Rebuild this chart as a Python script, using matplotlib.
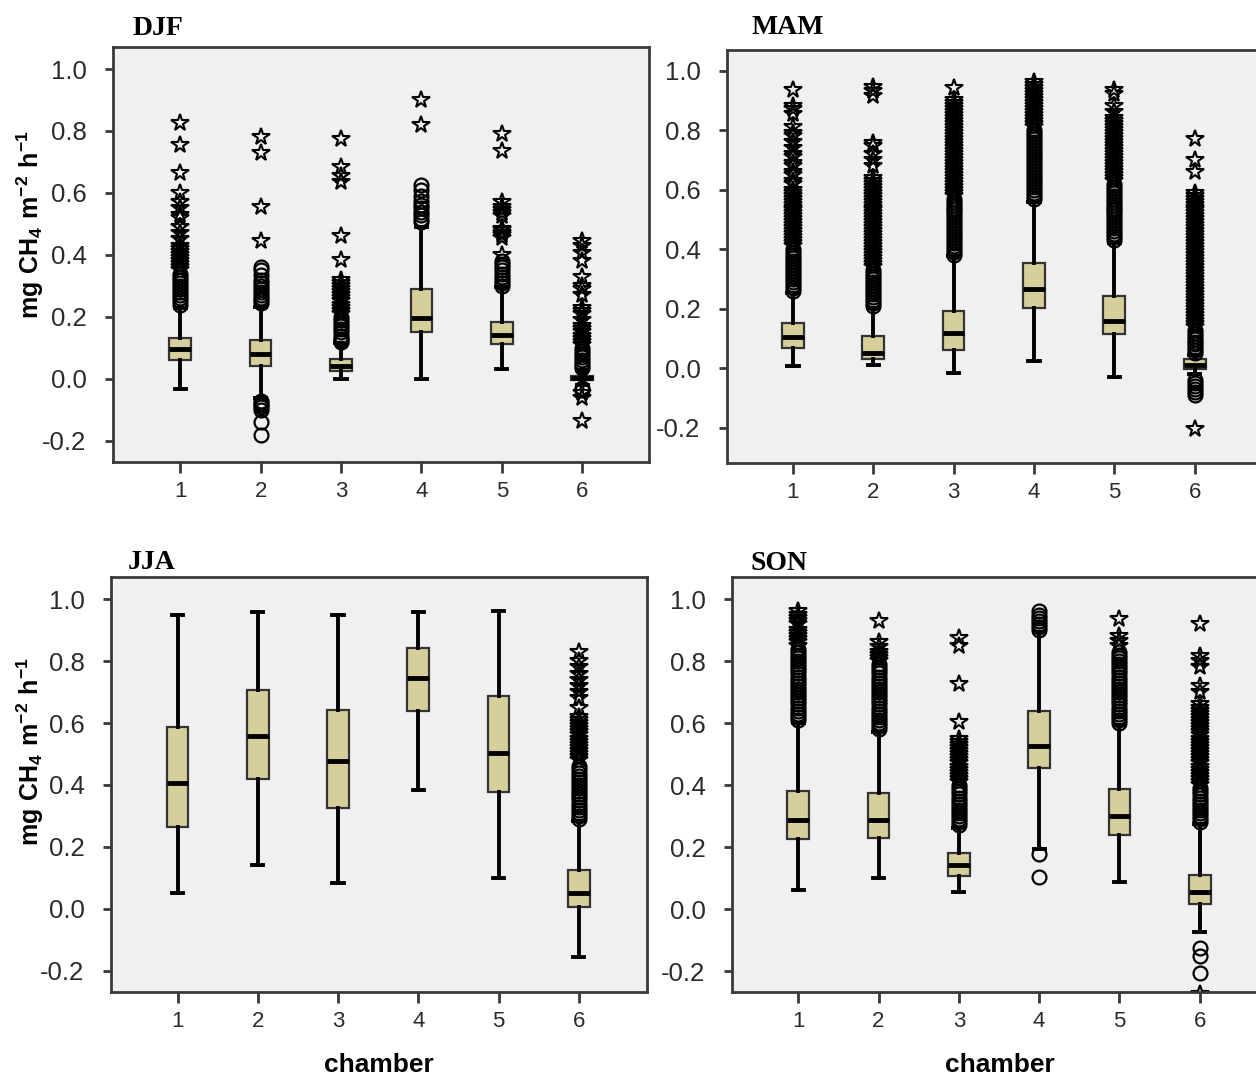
import numpy as np
import matplotlib
matplotlib.use("Agg")
import matplotlib.pyplot as plt

plt.rcParams['font.family'] = ['Liberation Sans', 'DejaVu Sans']
plt.rcParams['mathtext.fontset'] = 'custom'
plt.rcParams['mathtext.bf'] = 'Liberation Sans:bold'

chambers = [1, 2, 3, 4, 5, 6]
seasons = ['DJF', 'MAM', 'JJA', 'SON']

# box statistics per chamber: lower whisker, q1, median, q3, upper whisker
djf_lo = [-0.033, -0.060, 0.000, 0.000, 0.031, -0.020]
djf_q1 = [0.061, 0.042, 0.024, 0.151, 0.113, -0.004]
djf_med = [0.098, 0.081, 0.043, 0.198, 0.142, 0.002]
djf_q3 = [0.133, 0.126, 0.063, 0.289, 0.185, 0.010]
djf_hi = [0.228, 0.232, 0.115, 0.491, 0.296, 0.030]

mam_lo = [0.007, 0.012, -0.016, 0.023, -0.030, -0.020]
mam_q1 = [0.068, 0.031, 0.063, 0.202, 0.116, -0.002]
mam_med = [0.104, 0.051, 0.119, 0.267, 0.158, 0.010]
mam_q3 = [0.152, 0.107, 0.191, 0.353, 0.244, 0.031]
mam_hi = [0.253, 0.202, 0.376, 0.560, 0.420, 0.045]

jja_lo = [0.051, 0.141, 0.082, 0.384, 0.099, -0.157]
jja_q1 = [0.263, 0.418, 0.327, 0.638, 0.377, 0.006]
jja_med = [0.405, 0.558, 0.479, 0.747, 0.503, 0.051]
jja_q3 = [0.586, 0.708, 0.643, 0.841, 0.688, 0.124]
jja_hi = [0.950, 0.959, 0.950, 0.959, 0.961, 0.285]

son_lo = [0.062, 0.101, 0.054, 0.193, 0.088, -0.073]
son_q1 = [0.226, 0.231, 0.107, 0.454, 0.238, 0.017]
son_med = [0.287, 0.287, 0.141, 0.527, 0.302, 0.054]
son_q3 = [0.381, 0.373, 0.181, 0.638, 0.386, 0.110]
son_hi = [0.600, 0.572, 0.263, 0.893, 0.595, 0.274]

# outliers (circles) and extremes (stars), one list per chamber
djf_circles = [
    [0.24, 0.25, 0.26, 0.27, 0.28, 0.29, 0.30, 0.31, 0.32, 0.33, 0.34],
    [0.245, 0.255, 0.26, 0.27, 0.28, 0.29, 0.30, 0.31, 0.32, 0.335, 0.35, 0.36,
     -0.07, -0.078, -0.085, -0.092, -0.10, -0.14, -0.18],
    [0.12, 0.125, 0.13, 0.14, 0.15, 0.16, 0.17, 0.18, 0.19, 0.20],
    [0.505, 0.515, 0.53, 0.54, 0.55, 0.56, 0.575, 0.59, 0.61, 0.625],
    [0.30, 0.31, 0.32, 0.33, 0.34, 0.35, 0.36, 0.37, 0.38],
    [-0.035, -0.028, 0.035, 0.042, 0.05, 0.06, 0.07, 0.08, 0.09, 0.10],
]
djf_stars = [
    [0.35, 0.36, 0.37, 0.38, 0.39, 0.40, 0.41, 0.42, 0.43, 0.45, 0.47, 0.49,
     0.52, 0.53, 0.55, 0.57, 0.60, 0.665, 0.755, 0.825],
    [0.445, 0.555, 0.73, 0.78],
    [0.21, 0.22, 0.23, 0.24, 0.25, 0.26, 0.27, 0.28, 0.29, 0.30, 0.31, 0.32,
     0.385, 0.46, 0.635, 0.655, 0.685, 0.775],
    [0.82, 0.90],
    [0.40, 0.455, 0.465, 0.47, 0.48, 0.485, 0.525, 0.535, 0.545, 0.555, 0.57,
     0.735, 0.79],
    [-0.045, -0.06, -0.135, 0.11, 0.12, 0.13, 0.14, 0.15, 0.16, 0.17, 0.19,
     0.21, 0.22, 0.23, 0.27, 0.29, 0.30, 0.33, 0.38, 0.405, 0.43, 0.445],
]

mam_circles = [
    [0.26, 0.27, 0.28, 0.29, 0.30, 0.31, 0.32, 0.33, 0.34, 0.35, 0.36, 0.37,
     0.38, 0.39, 0.40],
    [0.21, 0.22, 0.23, 0.24, 0.25, 0.26, 0.27, 0.28, 0.29, 0.30, 0.31, 0.32, 0.33],
    [0.38, 0.39, 0.40, 0.41, 0.42, 0.43, 0.44, 0.45, 0.46, 0.47, 0.48, 0.49,
     0.50, 0.51, 0.52, 0.53, 0.54, 0.55, 0.56, 0.57],
    [0.57, 0.58, 0.59, 0.60, 0.61, 0.62, 0.63, 0.64, 0.65, 0.66, 0.67, 0.68,
     0.69, 0.70, 0.71, 0.72, 0.73, 0.74, 0.75, 0.76, 0.77, 0.78, 0.79, 0.80],
    [0.43, 0.44, 0.45, 0.46, 0.47, 0.48, 0.49, 0.50, 0.51, 0.52, 0.53, 0.54,
     0.55, 0.56, 0.57, 0.58, 0.59, 0.60, 0.61, 0.62],
    [0.05, 0.06, 0.07, 0.08, 0.09, 0.10, 0.11, 0.12, 0.13,
     -0.04, -0.05, -0.06, -0.07, -0.08, -0.088],
]
mam_stars = [
    [0.41, 0.42, 0.43, 0.44, 0.45, 0.46, 0.47, 0.48, 0.49, 0.50, 0.51, 0.52,
     0.53, 0.54, 0.55, 0.56, 0.57, 0.58, 0.59, 0.60, 0.62, 0.63, 0.65, 0.66,
     0.68, 0.69, 0.71, 0.72, 0.74, 0.76, 0.78, 0.79, 0.81, 0.855, 0.87, 0.88, 0.935],
    [0.34, 0.35, 0.36, 0.37, 0.38, 0.39, 0.40, 0.41, 0.42, 0.43, 0.44, 0.45,
     0.46, 0.47, 0.48, 0.49, 0.50, 0.51, 0.52, 0.53, 0.54, 0.55, 0.56, 0.57,
     0.58, 0.59, 0.60, 0.61, 0.62, 0.63, 0.64, 0.68, 0.70, 0.72, 0.745, 0.755,
     0.915, 0.93, 0.945],
    [0.58, 0.59, 0.60, 0.61, 0.62, 0.63, 0.64, 0.65, 0.66, 0.67, 0.68, 0.69,
     0.70, 0.71, 0.72, 0.73, 0.74, 0.75, 0.76, 0.77, 0.78, 0.79, 0.80, 0.81,
     0.82, 0.83, 0.84, 0.85, 0.86, 0.87, 0.88, 0.89, 0.90, 0.94],
    [0.81, 0.82, 0.83, 0.84, 0.85, 0.86, 0.87, 0.88, 0.89, 0.90, 0.91, 0.92,
     0.93, 0.94, 0.95, 0.96],
    [0.63, 0.64, 0.65, 0.66, 0.67, 0.68, 0.69, 0.70, 0.71, 0.72, 0.73, 0.74,
     0.75, 0.76, 0.77, 0.78, 0.79, 0.80, 0.81, 0.82, 0.83, 0.84, 0.86, 0.88,
     0.92, 0.935],
    [0.14, 0.15, 0.16, 0.17, 0.18, 0.19, 0.20, 0.21, 0.22, 0.23, 0.24, 0.25,
     0.26, 0.27, 0.28, 0.29, 0.30, 0.31, 0.32, 0.33, 0.34, 0.35, 0.36, 0.37,
     0.38, 0.39, 0.40, 0.41, 0.42, 0.43, 0.44, 0.45, 0.46, 0.47, 0.48, 0.49,
     0.50, 0.51, 0.52, 0.53, 0.54, 0.55, 0.56, 0.57, 0.58, 0.59,
     0.66, 0.70, 0.77, -0.205],
]

jja_circles = [[], [], [], [], [],
               [0.29, 0.30, 0.31, 0.32, 0.33, 0.34, 0.35, 0.36, 0.37, 0.38, 0.39,
                0.40, 0.41, 0.42, 0.43, 0.44, 0.45, 0.46]]
jja_stars = [[], [], [], [], [],
             [0.48, 0.49, 0.50, 0.51, 0.52, 0.53, 0.54, 0.55, 0.56, 0.57, 0.58,
              0.59, 0.60, 0.61, 0.62, 0.65, 0.68, 0.70, 0.72, 0.74, 0.76, 0.78,
              0.80, 0.83]]

son_circles = [
    [0.61, 0.62, 0.63, 0.64, 0.65, 0.66, 0.67, 0.68, 0.69, 0.70, 0.71, 0.72,
     0.73, 0.74, 0.75, 0.76, 0.77, 0.78, 0.79, 0.80, 0.81, 0.82, 0.83, 0.84],
    [0.58, 0.59, 0.60, 0.61, 0.62, 0.63, 0.64, 0.65, 0.66, 0.67, 0.68, 0.69,
     0.70, 0.71, 0.72, 0.73, 0.74, 0.75, 0.76, 0.77, 0.78, 0.79],
    [0.27, 0.28, 0.29, 0.30, 0.31, 0.32, 0.33, 0.34, 0.35, 0.36, 0.37, 0.38,
     0.39, 0.40],
    [0.105, 0.178, 0.90, 0.91, 0.92, 0.93, 0.94, 0.95, 0.96],
    [0.60, 0.61, 0.62, 0.63, 0.64, 0.65, 0.66, 0.67, 0.68, 0.69, 0.70, 0.71,
     0.72, 0.73, 0.74, 0.75, 0.76, 0.77, 0.78, 0.79, 0.80, 0.81, 0.82, 0.83],
    [0.28, 0.29, 0.30, 0.31, 0.32, 0.33, 0.34, 0.35, 0.36, 0.37, 0.38, 0.39,
     -0.126, -0.152, -0.205],
]
son_stars = [
    [0.85, 0.86, 0.87, 0.88, 0.89, 0.90, 0.92, 0.93, 0.94, 0.95, 0.96],
    [0.80, 0.81, 0.82, 0.83, 0.845, 0.86, 0.93],
    [0.41, 0.42, 0.43, 0.44, 0.45, 0.46, 0.47, 0.48, 0.49, 0.50, 0.51, 0.52,
     0.53, 0.54, 0.55, 0.605, 0.725, 0.85, 0.875],
    [],
    [0.85, 0.865, 0.88, 0.935],
    [0.40, 0.41, 0.42, 0.43, 0.44, 0.45, 0.46, 0.47, 0.48, 0.49, 0.50, 0.51,
     0.52, 0.53, 0.54, 0.55, 0.56, 0.57, 0.58, 0.59, 0.60, 0.61, 0.62, 0.63,
     0.64, 0.65, 0.66, 0.70, 0.72, 0.78, 0.80, 0.815, 0.92, -0.272],
]

panels = {
    'DJF': (djf_lo, djf_q1, djf_med, djf_q3, djf_hi, djf_circles, djf_stars),
    'MAM': (mam_lo, mam_q1, mam_med, mam_q3, mam_hi, mam_circles, mam_stars),
    'JJA': (jja_lo, jja_q1, jja_med, jja_q3, jja_hi, jja_circles, jja_stars),
    'SON': (son_lo, son_q1, son_med, son_q3, son_hi, son_circles, son_stars),
}

W, H = 1256, 1078
fig = plt.figure(figsize=(W / 100, H / 100), dpi=100)

def px_rect(left, top, right, bottom):
    return [left / W, 1 - bottom / H, (right - left) / W, (bottom - top) / H]

# axes rectangles in pixels, plus x/y limits and title anchor for each season
layout = {
    'DJF': (px_rect(113, 47, 649, 462), (0.165, 6.83), (-0.268, 1.071), (133, 35)),
    'MAM': (px_rect(727, 50, 1263, 463), (0.18, 6.85), (-0.318, 1.069), (752, 34)),
    'JJA': (px_rect(111, 577, 647, 992), (0.17, 6.85), (-0.269, 1.072), (128, 569)),
    'SON': (px_rect(732, 577, 1268, 992), (0.175, 6.85), (-0.267, 1.071), (751, 570)),
}

edge = '#3a3a3a'
for season in seasons:
    lo, q1, med, q3, hi, circles, stars = panels[season]
    rect, xl, yl, (tx, ty) = layout[season]
    ax = fig.add_axes(rect)
    ax.set_facecolor('#f0f0f0')

    stats = [dict(whislo=lo[i], q1=q1[i], med=med[i], q3=q3[i], whishi=hi[i])
             for i in range(len(chambers))]
    ax.bxp(stats, positions=chambers, widths=0.27, capwidths=0.14,
           showfliers=False, patch_artist=True,
           boxprops=dict(facecolor='#d6cf9b', edgecolor='#333333', linewidth=1.6),
           medianprops=dict(color='black', linewidth=3.5),
           whiskerprops=dict(color='black', linewidth=2.8),
           capprops=dict(color='black', linewidth=2.8))

    for pos, vals in zip(chambers, circles):
        if vals:
            ax.plot([pos] * len(vals), vals, linestyle='none', marker='o',
                    ms=10, mfc='none', mec='black', mew=1.6)
    for pos, vals in zip(chambers, stars):
        if vals:
            ax.plot([pos] * len(vals), vals, linestyle='none', marker='*',
                    ms=13, mfc='none', mec='black', mew=1.5)

    ax.set_xlim(*xl)
    ax.set_ylim(*yl)
    ax.set_xticks(chambers)
    ax.set_xticklabels([str(c) for c in chambers])
    ax.set_yticks([-0.2, 0.0, 0.2, 0.4, 0.6, 0.8, 1.0])
    ax.set_yticklabels(['-0.2', '0.0', '0.2', '0.4', '0.6', '0.8', '1.0'])
    ax.tick_params(axis='y', direction='out', length=6, width=2, color=edge,
                   labelsize=18.5, labelcolor='#2b2b2b', pad=13)
    ax.tick_params(axis='x', direction='out', length=8, width=2, color=edge,
                   labelsize=16, labelcolor='#2b2b2b', pad=6)
    for sp in ax.spines.values():
        sp.set_color(edge)
        sp.set_linewidth(2)

    fig.text(tx / W, 1 - ty / H, season, family='Liberation Serif',
             fontweight='bold', fontsize=20, va='baseline', ha='left')

ylabel = r'$\mathbf{mg\ CH_4\ m^{-2}\ h^{-1}}$'
fig.text(30 / W, 1 - 225 / H, ylabel, rotation=90, fontsize=18,
         ha='center', va='center')
fig.text(30 / W, 1 - 752 / H, ylabel, rotation=90, fontsize=18,
         ha='center', va='center')
fig.text(379 / W, 1 - 1065 / H, 'chamber', fontweight='bold', fontsize=19,
         ha='center', va='center')
fig.text(1000 / W, 1 - 1065 / H, 'chamber', fontweight='bold', fontsize=19,
         ha='center', va='center')

fig.savefig('out.png', dpi=100, facecolor='white')
